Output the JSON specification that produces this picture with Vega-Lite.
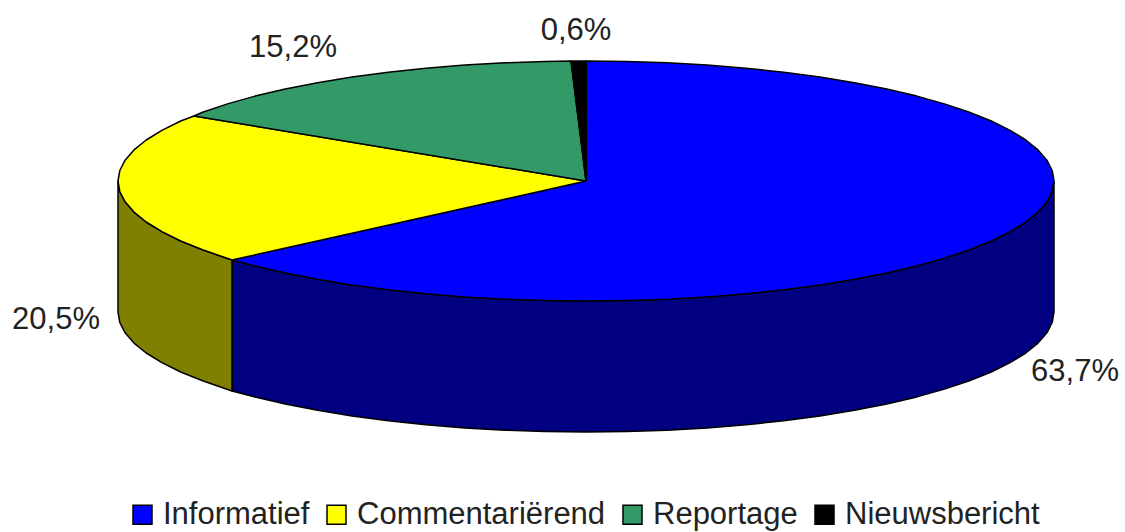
{"$schema":"https://vega.github.io/schema/vega-lite/v6.json","width":1125,"height":532,"padding":0,"autosize":{"type":"fit","contains":"padding"},"background":"white","view":{"stroke":null},
"datasets":{
"boven":[
{"deel":"Informatief","i":0,"x":586,"y":181},{"deel":"Informatief","i":1,"x":586,"y":61},{"deel":"Informatief","i":2,"x":626.8,"y":61.5},{"deel":"Informatief","i":3,"x":667.2,"y":62.8},{"deel":"Informatief","i":4,"x":707.1,"y":65.1},{"deel":"Informatief","i":5,"x":746.1,"y":68.2},{"deel":"Informatief","i":6,"x":783.8,"y":72.2},{"deel":"Informatief","i":7,"x":820,"y":77.1},{"deel":"Informatief","i":8,"x":854.4,"y":82.7},{"deel":"Informatief","i":9,"x":886.8,"y":89.1},{"deel":"Informatief","i":10,"x":916.9,"y":96.1},{"deel":"Informatief","i":11,"x":944.5,"y":103.9},{"deel":"Informatief","i":12,"x":969.4,"y":112.2},{"deel":"Informatief","i":13,"x":991.3,"y":121},{"deel":"Informatief","i":14,"x":1010.1,"y":130.3},{"deel":"Informatief","i":15,"x":1025.8,"y":140},{"deel":"Informatief","i":16,"x":1038,"y":149.9},{"deel":"Informatief","i":17,"x":1046.9,"y":160.2},{"deel":"Informatief","i":18,"x":1052.2,"y":170.5},{"deel":"Informatief","i":19,"x":1054,"y":181},{"deel":"Informatief","i":20,"x":1052.2,"y":191.5},{"deel":"Informatief","i":21,"x":1046.9,"y":201.8},{"deel":"Informatief","i":22,"x":1038,"y":212.1},{"deel":"Informatief","i":23,"x":1025.8,"y":222},{"deel":"Informatief","i":24,"x":1010.1,"y":231.7},{"deel":"Informatief","i":25,"x":991.3,"y":241},{"deel":"Informatief","i":26,"x":969.4,"y":249.8},{"deel":"Informatief","i":27,"x":944.5,"y":258.1},{"deel":"Informatief","i":28,"x":916.9,"y":265.9},{"deel":"Informatief","i":29,"x":886.8,"y":272.9},{"deel":"Informatief","i":30,"x":854.4,"y":279.3},{"deel":"Informatief","i":31,"x":820,"y":284.9},{"deel":"Informatief","i":32,"x":783.8,"y":289.8},{"deel":"Informatief","i":33,"x":746.1,"y":293.8},{"deel":"Informatief","i":34,"x":707.1,"y":296.9},{"deel":"Informatief","i":35,"x":667.2,"y":299.2},{"deel":"Informatief","i":36,"x":626.8,"y":300.5},{"deel":"Informatief","i":37,"x":586,"y":301},{"deel":"Informatief","i":38,"x":545.2,"y":300.5},{"deel":"Informatief","i":39,"x":504.8,"y":299.2},{"deel":"Informatief","i":40,"x":464.9,"y":296.9},{"deel":"Informatief","i":41,"x":425.9,"y":293.8},{"deel":"Informatief","i":42,"x":388.2,"y":289.8},{"deel":"Informatief","i":43,"x":352,"y":284.9},{"deel":"Informatief","i":44,"x":317.6,"y":279.3},{"deel":"Informatief","i":45,"x":285.2,"y":272.9},{"deel":"Informatief","i":46,"x":255.1,"y":265.9},{"deel":"Informatief","i":47,"x":232,"y":260},{"deel":"Informatief","i":48,"x":586,"y":181},
{"deel":"Commentariërend","i":0,"x":586,"y":181},{"deel":"Commentariërend","i":1,"x":232,"y":260},{"deel":"Commentariërend","i":2,"x":202.6,"y":249.8},{"deel":"Commentariërend","i":3,"x":180.7,"y":241},{"deel":"Commentariërend","i":4,"x":161.9,"y":231.7},{"deel":"Commentariërend","i":5,"x":146.2,"y":222},{"deel":"Commentariërend","i":6,"x":134,"y":212.1},{"deel":"Commentariërend","i":7,"x":125.1,"y":201.8},{"deel":"Commentariërend","i":8,"x":119.8,"y":191.5},{"deel":"Commentariërend","i":9,"x":118,"y":181},{"deel":"Commentariërend","i":10,"x":119.8,"y":170.5},{"deel":"Commentariërend","i":11,"x":125.1,"y":160.2},{"deel":"Commentariërend","i":12,"x":134,"y":149.9},{"deel":"Commentariërend","i":13,"x":146.2,"y":140},{"deel":"Commentariërend","i":14,"x":161.9,"y":130.3},{"deel":"Commentariërend","i":15,"x":180.7,"y":121},{"deel":"Commentariërend","i":16,"x":194,"y":116},{"deel":"Commentariërend","i":17,"x":586,"y":181},
{"deel":"Reportage","i":0,"x":586,"y":181},{"deel":"Reportage","i":1,"x":194,"y":116},{"deel":"Reportage","i":2,"x":202.6,"y":112.2},{"deel":"Reportage","i":3,"x":227.5,"y":103.9},{"deel":"Reportage","i":4,"x":255.1,"y":96.1},{"deel":"Reportage","i":5,"x":285.2,"y":89.1},{"deel":"Reportage","i":6,"x":317.6,"y":82.7},{"deel":"Reportage","i":7,"x":352,"y":77.1},{"deel":"Reportage","i":8,"x":388.2,"y":72.2},{"deel":"Reportage","i":9,"x":425.9,"y":68.2},{"deel":"Reportage","i":10,"x":464.9,"y":65.1},{"deel":"Reportage","i":11,"x":504.8,"y":62.8},{"deel":"Reportage","i":12,"x":545.2,"y":61.5},{"deel":"Reportage","i":13,"x":571,"y":61},{"deel":"Reportage","i":14,"x":586,"y":181},
{"deel":"Nieuwsbericht","i":0,"x":586,"y":181},{"deel":"Nieuwsbericht","i":1,"x":571,"y":61},{"deel":"Nieuwsbericht","i":2,"x":586,"y":61},{"deel":"Nieuwsbericht","i":3,"x":586,"y":181}
],
"zijkant":[
{"deel":"Informatief","i":0,"x":1054,"y":181},{"deel":"Informatief","i":1,"x":1052.2,"y":191.5},{"deel":"Informatief","i":2,"x":1046.9,"y":201.8},{"deel":"Informatief","i":3,"x":1038,"y":212.1},{"deel":"Informatief","i":4,"x":1025.8,"y":222},{"deel":"Informatief","i":5,"x":1010.1,"y":231.7},{"deel":"Informatief","i":6,"x":991.3,"y":241},{"deel":"Informatief","i":7,"x":969.4,"y":249.8},{"deel":"Informatief","i":8,"x":944.5,"y":258.1},{"deel":"Informatief","i":9,"x":916.9,"y":265.9},{"deel":"Informatief","i":10,"x":886.8,"y":272.9},{"deel":"Informatief","i":11,"x":854.4,"y":279.3},{"deel":"Informatief","i":12,"x":820,"y":284.9},{"deel":"Informatief","i":13,"x":783.8,"y":289.8},{"deel":"Informatief","i":14,"x":746.1,"y":293.8},{"deel":"Informatief","i":15,"x":707.1,"y":296.9},{"deel":"Informatief","i":16,"x":667.2,"y":299.2},{"deel":"Informatief","i":17,"x":626.8,"y":300.5},{"deel":"Informatief","i":18,"x":586,"y":301},{"deel":"Informatief","i":19,"x":545.2,"y":300.5},{"deel":"Informatief","i":20,"x":504.8,"y":299.2},{"deel":"Informatief","i":21,"x":464.9,"y":296.9},{"deel":"Informatief","i":22,"x":425.9,"y":293.8},{"deel":"Informatief","i":23,"x":388.2,"y":289.8},{"deel":"Informatief","i":24,"x":352,"y":284.9},{"deel":"Informatief","i":25,"x":317.6,"y":279.3},{"deel":"Informatief","i":26,"x":285.2,"y":272.9},{"deel":"Informatief","i":27,"x":255.1,"y":265.9},{"deel":"Informatief","i":28,"x":232,"y":260},
{"deel":"Informatief","i":29,"x":232,"y":391},{"deel":"Informatief","i":30,"x":255.1,"y":396.9},{"deel":"Informatief","i":31,"x":285.2,"y":403.9},{"deel":"Informatief","i":32,"x":317.6,"y":410.3},{"deel":"Informatief","i":33,"x":352,"y":415.9},{"deel":"Informatief","i":34,"x":388.2,"y":420.8},{"deel":"Informatief","i":35,"x":425.9,"y":424.8},{"deel":"Informatief","i":36,"x":464.9,"y":427.9},{"deel":"Informatief","i":37,"x":504.8,"y":430.2},{"deel":"Informatief","i":38,"x":545.2,"y":431.5},{"deel":"Informatief","i":39,"x":586,"y":432},{"deel":"Informatief","i":40,"x":626.8,"y":431.5},{"deel":"Informatief","i":41,"x":667.2,"y":430.2},{"deel":"Informatief","i":42,"x":707.1,"y":427.9},{"deel":"Informatief","i":43,"x":746.1,"y":424.8},{"deel":"Informatief","i":44,"x":783.8,"y":420.8},{"deel":"Informatief","i":45,"x":820,"y":415.9},{"deel":"Informatief","i":46,"x":854.4,"y":410.3},{"deel":"Informatief","i":47,"x":886.8,"y":403.9},{"deel":"Informatief","i":48,"x":916.9,"y":396.9},{"deel":"Informatief","i":49,"x":944.5,"y":389.1},{"deel":"Informatief","i":50,"x":969.4,"y":380.8},{"deel":"Informatief","i":51,"x":991.3,"y":372},{"deel":"Informatief","i":52,"x":1010.1,"y":362.7},{"deel":"Informatief","i":53,"x":1025.8,"y":353},{"deel":"Informatief","i":54,"x":1038,"y":343.1},{"deel":"Informatief","i":55,"x":1046.9,"y":332.8},{"deel":"Informatief","i":56,"x":1052.2,"y":322.5},{"deel":"Informatief","i":57,"x":1054,"y":312},{"deel":"Informatief","i":58,"x":1054,"y":181},
{"deel":"Commentariërend","i":0,"x":232,"y":260},{"deel":"Commentariërend","i":1,"x":202.6,"y":249.8},{"deel":"Commentariërend","i":2,"x":180.7,"y":241},{"deel":"Commentariërend","i":3,"x":161.9,"y":231.7},{"deel":"Commentariërend","i":4,"x":146.2,"y":222},{"deel":"Commentariërend","i":5,"x":134,"y":212.1},{"deel":"Commentariërend","i":6,"x":125.1,"y":201.8},{"deel":"Commentariërend","i":7,"x":119.8,"y":191.5},{"deel":"Commentariërend","i":8,"x":118,"y":181},{"deel":"Commentariërend","i":9,"x":118,"y":312},{"deel":"Commentariërend","i":10,"x":119.8,"y":322.5},{"deel":"Commentariërend","i":11,"x":125.1,"y":332.8},{"deel":"Commentariërend","i":12,"x":134,"y":343.1},{"deel":"Commentariërend","i":13,"x":146.2,"y":353},{"deel":"Commentariërend","i":14,"x":161.9,"y":362.7},{"deel":"Commentariërend","i":15,"x":180.7,"y":372},{"deel":"Commentariërend","i":16,"x":202.6,"y":380.8},{"deel":"Commentariërend","i":17,"x":232,"y":391},{"deel":"Commentariërend","i":18,"x":232,"y":260}
]},
"encoding":{
"x":{"field":"x","type":"quantitative","scale":{"domain":[0,1125],"nice":false,"zero":false},"axis":null},
"y":{"field":"y","type":"quantitative","scale":{"domain":[0,532],"reverse":true,"nice":false,"zero":false},"axis":null}
},
"layer":[
{"data":{"name":"zijkant"},"mark":{"type":"line","stroke":"black","strokeWidth":1.5,"strokeJoin":"round"},
"encoding":{"order":{"field":"i","type":"quantitative"},"detail":{"field":"deel"},"fill":{"field":"deel","type":"nominal","scale":{"domain":["Informatief","Commentariërend"],"range":["#000080","#808000"]},"legend":null}}},
{"data":{"name":"boven"},"mark":{"type":"line","stroke":"black","strokeWidth":1.5,"strokeJoin":"round"},
"encoding":{"order":{"field":"i","type":"quantitative"},"detail":{"field":"deel"},"fill":{"field":"deel","type":"nominal","scale":{"domain":["Informatief","Commentariërend","Reportage","Nieuwsbericht"],"range":["#0000FF","#FFFF00","#339966","#000000"]},
"legend":{"title":null,"orient":"none","legendX":127,"legendY":499,"direction":"horizontal","columns":4,"symbolType":"square","symbolSize":361,"symbolStrokeColor":"black","symbolStrokeWidth":1.5,"labelFont":"Liberation Sans","labelFontSize":31,"labelColor":"#222222","labelOffset":5,"columnPadding":11,"padding":0,"labelLimit":400}}}},
{"data":{"values":[{"waarde":"15,2%","x":293,"y":48},{"waarde":"0,6%","x":576,"y":31},{"waarde":"20,5%","x":56,"y":320},{"waarde":"63,7%","x":1075,"y":372}]},
"mark":{"type":"text","font":"Liberation Sans","fontSize":31,"color":"#222222","align":"center","baseline":"middle"},
"encoding":{"text":{"field":"waarde"}}}
],
"resolve":{"scale":{"fill":"independent"}}}
